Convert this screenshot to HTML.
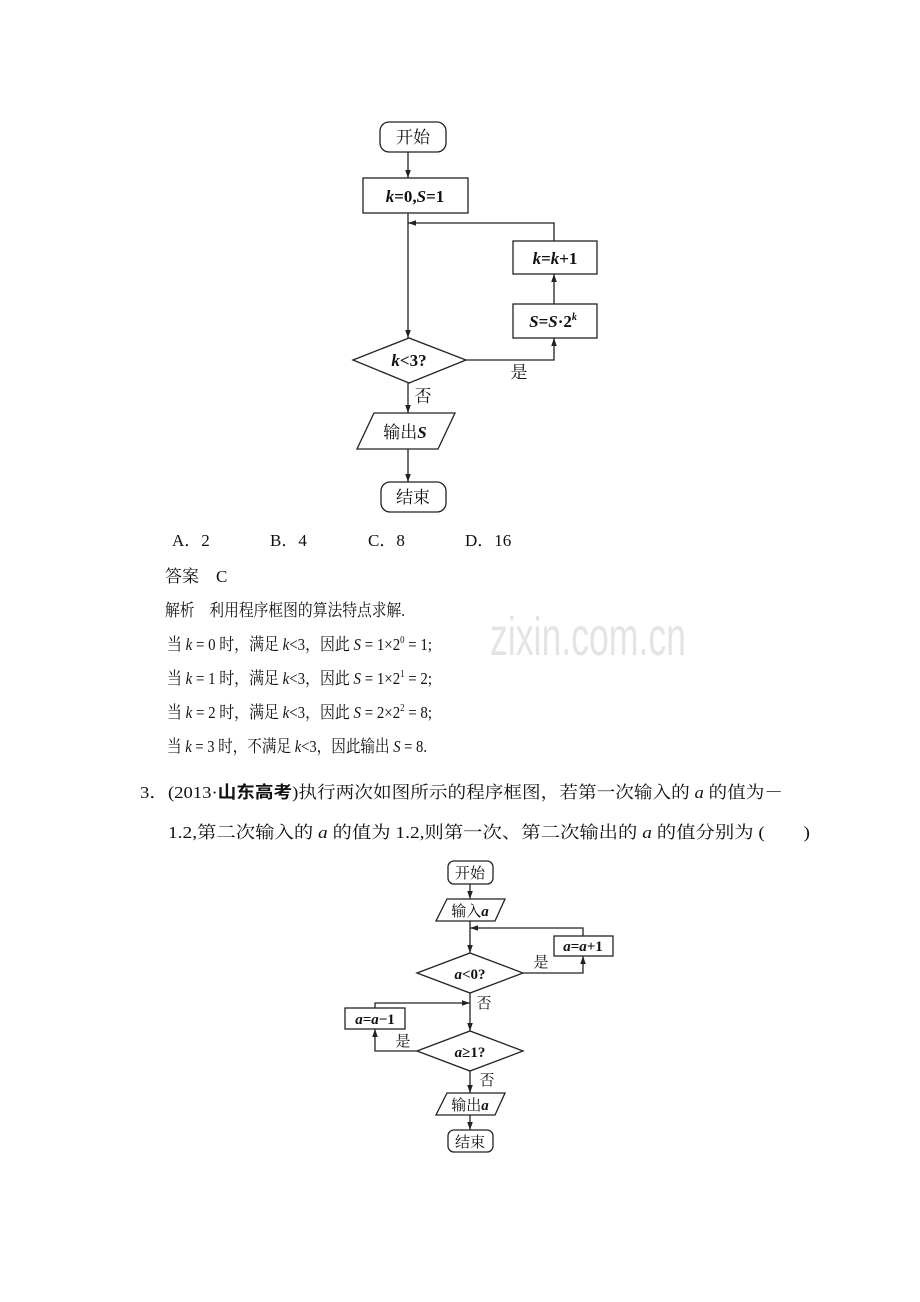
<!DOCTYPE html>
<html><head><meta charset="utf-8"><style>
html,body{margin:0;padding:0;background:#fff;}
svg{display:block;}
text{font-family:"Liberation Serif","Noto Serif CJK SC",serif;fill:#111;}
.b{font-weight:bold;}
</style></head><body>
<svg width="920" height="1302" viewBox="0 0 920 1302" xmlns="http://www.w3.org/2000/svg">
<defs>
<marker id="ar" viewBox="0 0 10 10" refX="10" refY="5" markerWidth="8" markerHeight="8" orient="auto-start-reverse" markerUnits="userSpaceOnUse"><path d="M0,1.5 L10,5 L0,8.5 z" fill="#222"/></marker>
</defs>
<g stroke="#222" stroke-width="1.3" fill="none">
<rect x="380" y="122" width="66" height="30" rx="9"/>
<line x1="408" y1="152" x2="408" y2="178" marker-end="url(#ar)"/>
<rect x="363" y="178" width="105" height="35"/>
<line x1="408" y1="213" x2="408" y2="338" marker-end="url(#ar)"/>
<polyline points="554,241 554,223 408,223" marker-end="url(#ar)"/>
<rect x="513" y="241" width="84" height="33"/>
<line x1="554" y1="304" x2="554" y2="274" marker-end="url(#ar)"/>
<rect x="513" y="304" width="84" height="34"/>
<polygon points="353,360 409,338 466,360 409,383"/>
<polyline points="466,360 554,360 554,338" marker-end="url(#ar)"/>
<line x1="408" y1="383" x2="408" y2="413" marker-end="url(#ar)"/>
<polygon points="374,413 455,413 438,449 357,449"/>
<line x1="408" y1="449" x2="408" y2="482" marker-end="url(#ar)"/>
<rect x="381" y="482" width="65" height="30" rx="9"/>
<rect x="448" y="861" width="45" height="23" rx="6"/>
<line x1="470" y1="884" x2="470" y2="899" marker-end="url(#ar)"/>
<polygon points="447,899 505,899 495,921 436,921"/>
<line x1="470" y1="921" x2="470" y2="953" marker-end="url(#ar)"/>
<polyline points="583,936 583,928 470,928" marker-end="url(#ar)"/>
<rect x="554" y="936" width="59" height="20"/>
<polygon points="417,973 470,953 523,973 470,993"/>
<polyline points="523,973 583,973 583,956" marker-end="url(#ar)"/>
<line x1="470" y1="993" x2="470" y2="1031" marker-end="url(#ar)"/>
<polyline points="375,1008 375,1003 470,1003" marker-end="url(#ar)"/>
<rect x="345" y="1008" width="60" height="21"/>
<polygon points="417,1051 470,1031 523,1051 470,1071"/>
<polyline points="417,1051 375,1051 375,1029" marker-end="url(#ar)"/>
<line x1="470" y1="1071" x2="470" y2="1093" marker-end="url(#ar)"/>
<polygon points="447,1093 505,1093 495,1115 436,1115"/>
<line x1="470" y1="1115" x2="470" y2="1130" marker-end="url(#ar)"/>
<rect x="448" y="1130" width="45" height="22" rx="6"/>
</g>
<g font-size="17" text-anchor="middle">
<text x="413" y="143">开始</text>
<text x="415" y="202" class="b"><tspan font-style="italic">k</tspan>=0,<tspan font-style="italic">S</tspan>=1</text>
<text x="555" y="264" class="b"><tspan font-style="italic">k</tspan>=<tspan font-style="italic">k</tspan>+1</text>
<text x="553" y="327" class="b"><tspan font-style="italic">S</tspan>=<tspan font-style="italic">S</tspan>·2<tspan font-size="10" dy="-7" font-style="italic">k</tspan></text>
<text x="409" y="366" class="b"><tspan font-style="italic">k</tspan>&lt;3?</text>
<text x="519" y="378">是</text>
<text x="423" y="402">否</text>
<text x="405" y="438">输出<tspan font-style="italic" class="b">S</tspan></text>
<text x="413" y="503">结束</text>
</g>
<g font-size="15" text-anchor="middle">
<text x="470" y="878">开始</text>
<text x="470" y="916">输入<tspan font-style="italic" class="b">a</tspan></text>
<text x="583" y="951" class="b"><tspan font-style="italic">a</tspan>=<tspan font-style="italic">a</tspan>+1</text>
<text x="541" y="967">是</text>
<text x="470" y="979" class="b"><tspan font-style="italic">a</tspan>&lt;0?</text>
<text x="484" y="1008">否</text>
<text x="375" y="1024" class="b"><tspan font-style="italic">a</tspan>=<tspan font-style="italic">a</tspan>−1</text>
<text x="403" y="1046">是</text>
<text x="470" y="1057" class="b"><tspan font-style="italic">a</tspan>≥1?</text>
<text x="487" y="1085">否</text>
<text x="470" y="1110">输出<tspan font-style="italic" class="b">a</tspan></text>
<text x="470" y="1147">结束</text>
</g>
<text x="490" y="655" font-size="54" style="fill:#e4e4e4;font-family:'Liberation Sans',sans-serif" textLength="196" lengthAdjust="spacingAndGlyphs">zixin.com.cn</text>
<g font-size="17">
<text x="172" y="546">A．2</text>
<text x="270" y="546">B．4</text>
<text x="368" y="546">C．8</text>
<text x="465" y="546">D．16</text>
<text x="165" y="582">答案　C</text>
<text x="165" y="616" textLength="240" lengthAdjust="spacingAndGlyphs">解析　利用程序框图的算法特点求解.</text>
<text x="167" y="650" textLength="265" lengthAdjust="spacingAndGlyphs">当 <tspan font-style="italic">k</tspan> = 0 时，满足 <tspan font-style="italic">k</tspan>&lt;3，因此 <tspan font-style="italic">S</tspan> = 1×2<tspan font-size="10" dy="-7">0</tspan><tspan dy="7"> = 1;</tspan></text>
<text x="167" y="684" textLength="265" lengthAdjust="spacingAndGlyphs">当 <tspan font-style="italic">k</tspan> = 1 时，满足 <tspan font-style="italic">k</tspan>&lt;3，因此 <tspan font-style="italic">S</tspan> = 1×2<tspan font-size="10" dy="-7">1</tspan><tspan dy="7"> = 2;</tspan></text>
<text x="167" y="718" textLength="265" lengthAdjust="spacingAndGlyphs">当 <tspan font-style="italic">k</tspan> = 2 时，满足 <tspan font-style="italic">k</tspan>&lt;3，因此 <tspan font-style="italic">S</tspan> = 2×2<tspan font-size="10" dy="-7">2</tspan><tspan dy="7"> = 8;</tspan></text>
<text x="167" y="752" textLength="260" lengthAdjust="spacingAndGlyphs">当 <tspan font-style="italic">k</tspan> = 3 时，不满足 <tspan font-style="italic">k</tspan>&lt;3，因此输出 <tspan font-style="italic">S</tspan> = 8.</text>
<text x="140" y="798" textLength="643" lengthAdjust="spacingAndGlyphs">3．(2013·<tspan class="b" style="font-family:'Liberation Sans','Noto Sans CJK SC',sans-serif">山东高考</tspan>)执行两次如图所示的程序框图，若第一次输入的 <tspan font-style="italic">a</tspan> 的值为－</text>
<text x="168" y="838" textLength="642" lengthAdjust="spacingAndGlyphs">1.2,第二次输入的 <tspan font-style="italic">a</tspan> 的值为 1.2,则第一次、第二次输出的 <tspan font-style="italic">a</tspan> 的值分别为 (　　)</text>
</g>
</svg>
</body></html>
